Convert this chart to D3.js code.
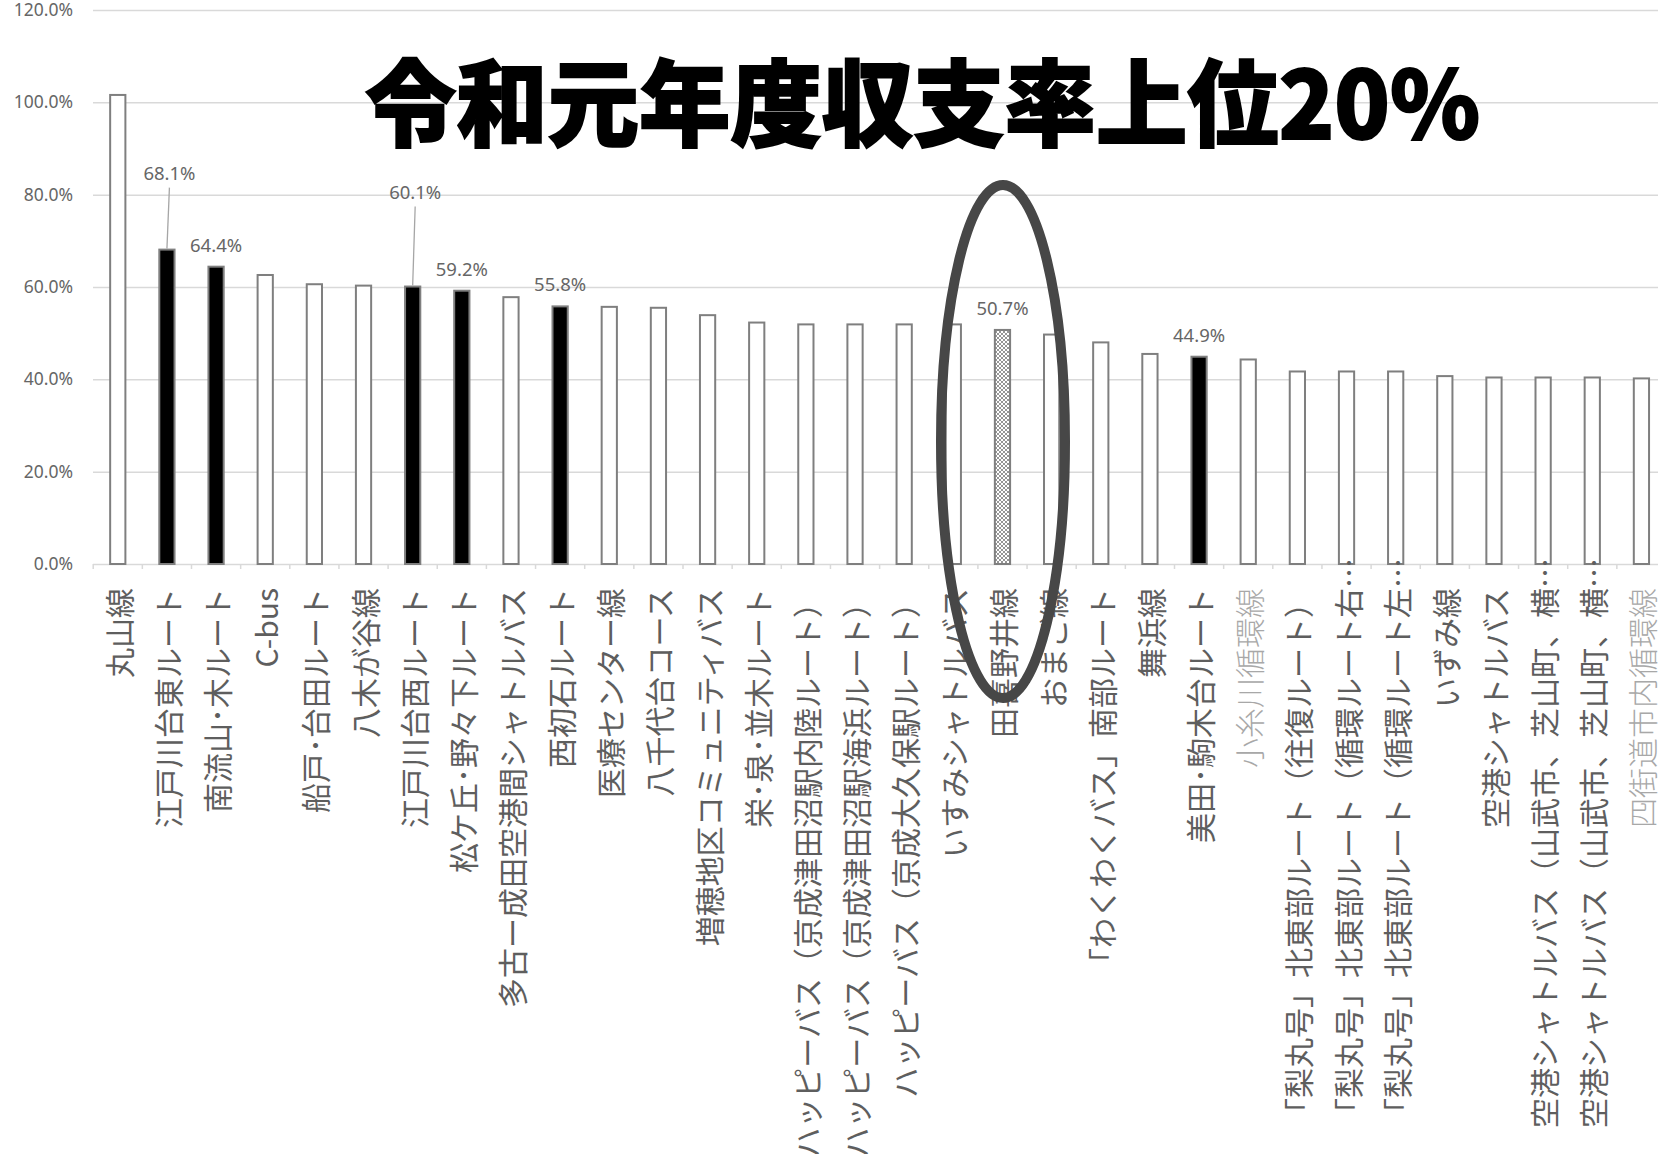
<!DOCTYPE html>
<html>
<head>
<meta charset="utf-8">
<script src="https://cdn.jsdelivr.net/npm/d3@7"></script>
<style>
  body { margin: 0; background: #fff; }
  svg { display: block; }
</style>
</head>
<body>
<div id="chart"></div>
<script>
// route names, left to right (trailing "…" = label cut off like in the original)
var routes = [
  "丸山線", "江戸川台東ルート", "南流山･木ルート", "C-bus", "船戸･台田ルート",
  "八木が谷線", "江戸川台西ルート", "松ケ丘･野々下ルート", "多古ー成田空港間シャトルバス", "西初石ルート",
  "医療センター線", "八千代台コース", "増穂地区コミュニティバス", "栄･泉･並木ルート",
  "ハッピーバス（京成津田沼駅内陸ルート）", "ハッピーバス（京成津田沼駅海浜ルート）", "ハッピーバス（京成大久保駅ルート）",
  "いすみシャトルバス", "田喜野井線", "おまご線", "「わくわくバス」南部ルート", "舞浜線", "美田･駒木台ルート",
  "小糸川循環線", "「梨丸号」北東部ルート（往復ルート）", "「梨丸号」北東部ルート（循環ルート右…",
  "「梨丸号」北東部ルート（循環ルート左…", "いずみ線", "空港シャトルバス",
  "空港シャトルバス（山武市、芝山町、横…", "空港シャトルバス（山武市、芝山町、横…", "四街道市内循環線"
];
// 収支率 (%)
var ratios = [101.6, 68.1, 64.4, 62.6, 60.6, 60.3, 60.1, 59.2, 57.8, 55.8,
              55.7, 55.5, 53.9, 52.3, 51.9, 51.9, 51.9, 51.9, 50.7, 49.7,
              48.0, 45.5, 44.9, 44.3, 41.7, 41.7, 41.7, 40.7, 40.4, 40.4, 40.4, 40.2];
// bar style: w = plain, b = black, h = hatched
var kinds = ["w","b","b","w","w","w","b","b","w","b",
             "w","w","w","w","w","w","w","w","h","w",
             "w","w","b","w","w","w","w","w","w","w","w","w"];
// label tone: 1 = faded
var faded = [0,0,0,0,0,0,0,0,0,0, 0,0,0,0,0,0,0,0,0,0, 0,0,0,1,0,0,0,0,0,0,0,1];
var yTicks = [0, 20, 40, 60, 80, 100, 120];
var title = "令和元年度収支率上位20%";

// labels lifted up with a leader line
var callouts = {1: 55, 6: 73};

var W = 1658, H = 1154;
var svg = d3.select("#chart").append("svg").attr("width", W).attr("height", H)
svg.append("rect").attr("width", W).attr("height", H).attr("fill", "#fff")

var defs = svg.append("defs")
var pat = defs.append("pattern").attr("id", "hatch").attr("patternUnits", "userSpaceOnUse")
  .attr("width", 4).attr("height", 4)
pat.append("rect").attr("width", 4).attr("height", 4).attr("fill", "#fff")
pat.append("path").attr("d", "M0,0L4,4M4,0L0,4M-1,3L1,5M3,-1L5,1").attr("stroke", "#8a8a8a").attr("stroke-width", 0.9)

var x = d3.scaleBand().domain(d3.range(routes.length)).range([93.2, 93.2 + 32 * 49.15])
  .paddingInner(0.69).paddingOuter(0.345)
var y = d3.scaleLinear().domain([0, 120]).range([564, 10])

// gridlines + y labels
var yAxis = svg.append("g").attr("transform", "translate(93,0)")
  .call(d3.axisLeft(y).tickValues(yTicks).tickSize(-(W - 93)).tickPadding(20)
    .tickFormat(function(d) { return d.toFixed(1) + "%"; }))
yAxis.select(".domain").remove()
yAxis.selectAll(".tick line").attr("stroke", "#d9d9d9").attr("stroke-width", 1.5)
yAxis.selectAll(".tick text").attr("fill", "#666").style("font-family", "'Noto Sans', sans-serif").style("font-size", "17.5px")

// category ticks between bars
svg.append("g").selectAll("line").data(d3.range(routes.length + 1)).enter().append("line")
  .attr("x1", function(i) { return x.range()[0] + i * x.step(); })
  .attr("x2", function(i) { return x.range()[0] + i * x.step(); })
  .attr("y1", 564).attr("y2", 569).attr("stroke", "#d9d9d9").attr("stroke-width", 1.5)

// bars
svg.append("g").selectAll("rect").data(ratios).enter().append("rect")
  .attr("x", function(d, i) { return x(i); })
  .attr("y", function(d) { return y(d); })
  .attr("width", x.bandwidth())
  .attr("height", function(d) { return y(0) - y(d); })
  .attr("fill", function(d, i) { return kinds[i] == "b" ? "#000" : kinds[i] == "h" ? "url(#hatch)" : "#fff"; })
  .attr("stroke", "#7f7f7f").attr("stroke-width", 2)

// data labels for highlighted bars
var lab = svg.append("g")
ratios.forEach(function(v, i) {
  if (kinds[i] == "w") return;
  var cx = x(i) + x.bandwidth() / 2;
  var lift = callouts[i] || 0;
  var base = y(v) - 15 - lift;
  lab.append("text").attr("x", cx + (lift ? 2.5 : 0)).attr("y", base)
    .attr("text-anchor", "middle").attr("fill", "#666")
    .style("font-family", "'Noto Sans', sans-serif").style("font-size", "18.5px")
    .text(v.toFixed(1) + "%")
  if (lift) {
    lab.append("line").attr("x1", cx + 2.5).attr("y1", base + 8).attr("x2", cx).attr("y2", y(v) - 1)
      .attr("stroke", "#a6a6a6").attr("stroke-width", 1.3)
  }
})

// rotated category labels
var labelTop = 588;
var cats = svg.append("g").selectAll("g").data(routes).enter().append("g")
  .attr("transform", function(d, i) { return "translate(" + (x(i) + x.bandwidth() / 2) + "," + labelTop + ") rotate(-90)"; })
  .style("font-family", "'Noto Sans CJK JP', sans-serif").style("font-size", "30px")
  .attr("fill", function(d, i) { return faded[i] ? "#a8a8a8" : "#5e5e5e"; })
cats.append("text").attr("text-anchor", "end").attr("dominant-baseline", "central")
  .style("font-weight", function(d, i) { return faded[i] ? 300 : 400; })
  .text(function(d) { return d.replace("…", ""); })
cats.filter(function(d) { return d.indexOf("…") >= 0; }).append("text")
  .attr("text-anchor", "start").attr("dominant-baseline", "central").text("…")

// title
svg.append("text").attr("x", 365).attr("y", 139)
  .attr("textLength", 1115).attr("lengthAdjust", "spacingAndGlyphs")
  .style("font-family", "'Noto Sans CJK JP', sans-serif").style("font-size", "94px").style("font-weight", 900)
  .attr("fill", "#000").attr("stroke", "#000").attr("stroke-width", 2)
  .text(title)

// circle around 田喜野井線
svg.append("ellipse").attr("cx", 1003).attr("cy", 441.5).attr("rx", 62).attr("ry", 256.5)
  .attr("fill", "none").attr("stroke", "#474747").attr("stroke-width", 10)
</script>
</body>
</html>
